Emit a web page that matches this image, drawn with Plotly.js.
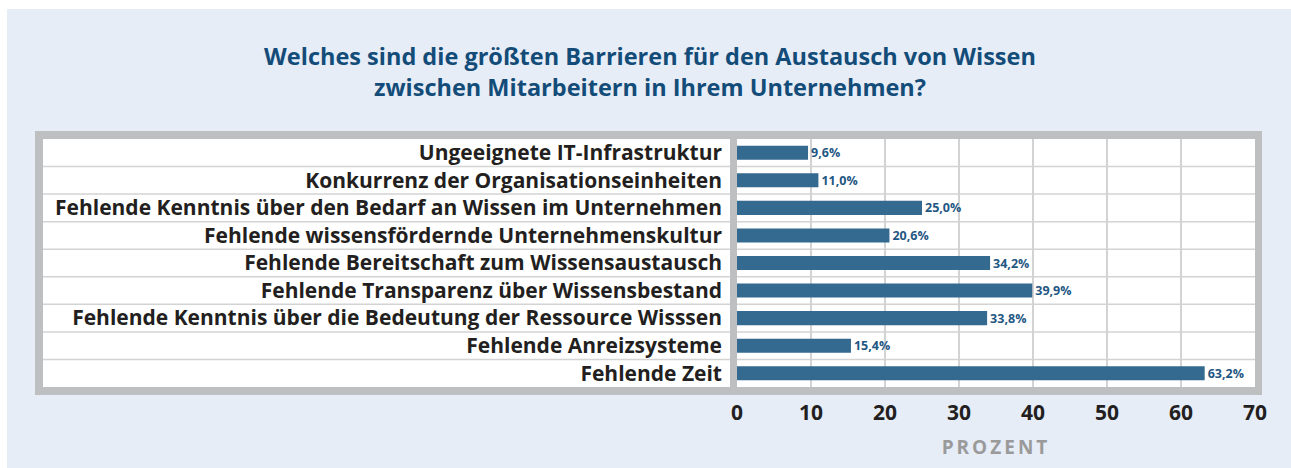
<!DOCTYPE html>
<html>
<head>
<meta charset="utf-8">
<script src="https://cdn.plot.ly/plotly-3.0.1.min.js"></script>
<style>
  html, body { margin: 0; padding: 0; background: #ffffff; }
  #chart { width: 1291px; height: 468px; }
</style>
</head>
<body>
<div id="chart"></div>
<script>
// ---- data ----
const categories = [
  "Ungeeignete IT-Infrastruktur",
  "Konkurrenz der Organisationseinheiten",
  "Fehlende Kenntnis über den Bedarf an Wissen im Unternehmen",
  "Fehlende wissensfördernde Unternehmenskultur",
  "Fehlende Bereitschaft zum Wissensaustausch",
  "Fehlende Transparenz über Wissensbestand",
  "Fehlende Kenntnis über die Bedeutung der Ressource Wisssen",
  "Fehlende Anreizsysteme",
  "Fehlende Zeit"
];
const values = [9.6, 11.0, 25.0, 20.6, 34.2, 39.9, 33.8, 15.4, 63.2];
const xTicks = [0, 10, 20, 30, 40, 50, 60, 70];
const titleText = "Welches sind die größten Barrieren für den Austausch von Wissen<br>zwischen Mitarbeitern in Ihrem Unternehmen?";
const xTitle = "PROZENT";

// ---- layout geometry (pixels) ----
const W = 1291, H = 468;
const plotL = 737, plotR = 1255, plotT = 139, plotB = 387;
const pw = plotR - plotL, ph = plotB - plotT;
const px = x => (x - plotL) / pw;
const py = y => (plotB - y) / ph;

const valueLabels = values.map(v => v.toFixed(1).replace('.', ',') + '%');

const shapes = [];
// light blue panel
shapes.push({type: 'rect', xref: 'paper', yref: 'paper', layer: 'below',
  x0: px(7), x1: px(W), y0: py(9), y1: py(H),
  fillcolor: '#e6edf7', line: {width: 0}});
// gray frame
shapes.push({type: 'rect', xref: 'paper', yref: 'paper', layer: 'below',
  x0: px(35), x1: px(1262), y0: py(131), y1: py(395),
  fillcolor: '#bebfc1', line: {width: 0}});
// white inside
shapes.push({type: 'rect', xref: 'paper', yref: 'paper', layer: 'below',
  x0: px(43), x1: px(1255), y0: py(139), y1: py(387),
  fillcolor: '#ffffff', line: {width: 0}});
// row separators
for (let i = 0; i < categories.length - 1; i++) {
  shapes.push({type: 'line', xref: 'paper', yref: 'y', layer: 'below',
    x0: px(43), x1: 1, y0: i + 0.5, y1: i + 0.5,
    line: {color: '#d3d3d3', width: 1.5}});
}
// vertical separator between labels and plot
shapes.push({type: 'rect', xref: 'paper', yref: 'paper', layer: 'below',
  x0: px(730), x1: px(737), y0: py(139), y1: py(387),
  fillcolor: '#bebfc1', line: {width: 0}});

const trace = {
  type: 'bar',
  orientation: 'h',
  x: values,
  y: categories,
  text: valueLabels,
  textposition: 'outside',
  constraintext: 'none',
  textfont: {family: 'Open Sans', size: 12.5, color: '#1f5783', weight: 'bold'},
  cliponaxis: false,
  marker: {color: '#346a8f', line: {width: 0}},
  hoverinfo: 'none'
};

const layout = {
  width: W, height: H,
  paper_bgcolor: '#ffffff',
  plot_bgcolor: 'rgba(0,0,0,0)',
  margin: {l: plotL, r: W - plotR, t: plotT, b: H - plotB, pad: 0},
  showlegend: false,
  bargap: 0.49,
  title: {
    text: titleText,
    xref: 'container', yref: 'container',
    x: 650 / W, xanchor: 'center',
    y: 1 - 65 / H, yanchor: 'middle',
    font: {family: 'Open Sans', size: 23.5, color: '#134c78', weight: 'bold'}
  },
  xaxis: {
    range: [0, 70],
    tickvals: xTicks,
    ticktext: xTicks.map(String),
    showgrid: true,
    gridcolor: '#d3d3d3',
    gridwidth: 1.5,
    zeroline: false,
    showline: false,
    ticks: '',
    ticklabelstandoff: 11,
    tickfont: {family: 'Open Sans', size: 21, color: '#231f20', weight: 'bold'},
    title: {
      text: xTitle,
      standoff: 15,
      font: {family: 'Open Sans', size: 19, color: '#9a9a9a', weight: 'bold'}
    },
    fixedrange: true
  },
  yaxis: {
    type: 'category',
    categoryorder: 'array',
    categoryarray: categories,
    autorange: 'reversed',
    showgrid: false,
    zeroline: false,
    showline: false,
    ticks: '',
    ticklabelstandoff: 14,
    tickfont: {family: 'Open Sans', size: 21, color: '#231f20', weight: 'bold'},
    fixedrange: true
  },
  shapes: shapes
};

Plotly.newPlot('chart', [trace], layout, {staticPlot: true, displayModeBar: false}).then(() => {
  const t = document.querySelector('.xtitle');
  if (t) t.style.letterSpacing = '3px';
});
</script>
</body>
</html>
